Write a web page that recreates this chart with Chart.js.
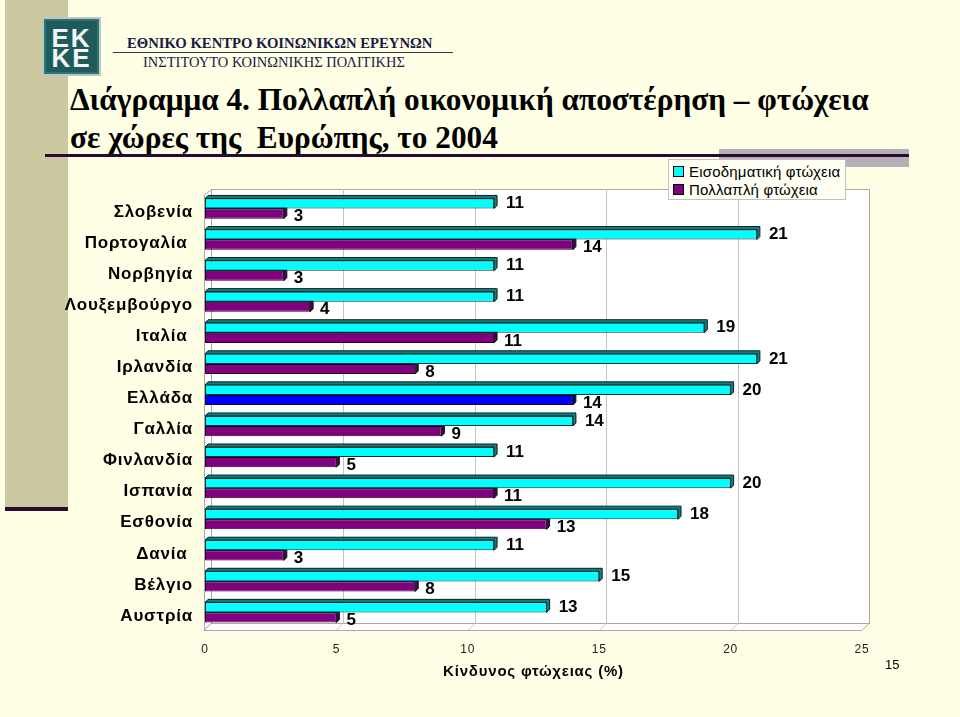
<!DOCTYPE html>
<html>
<head>
<meta charset="utf-8">
<script src="https://cdn.jsdelivr.net/npm/chart.js@4/dist/chart.umd.min.js"></script>
<style>
  html, body { margin: 0; padding: 0; }
  body { width: 960px; height: 717px; background: #FFFFE6; position: relative; overflow: hidden; }
  .abs { position: absolute; }
  #band { left: 5px; top: 0; width: 63px; height: 507px; background: #CCC9A0; }
  #bandEnd { left: 5px; top: 507px; width: 63px; height: 4px; background: #2A0A30; }
  #logo { left: 42px; top: 17px; width: 59px; height: 59px; background: #1E5C5C; border: 2px solid #B8C8C8;
          box-shadow: inset 0 0 0 2px #2E7272; color: #F4F4F4; font: bold 26px "Liberation Sans", Arial, sans-serif;
          line-height: 20px; letter-spacing: 2px; text-align: center; padding-top: 9px; box-sizing: border-box; }
  #inst1 { left: 127px; top: 35px; font: bold 14.7px "Liberation Serif", serif; color: #1A1A48; white-space: nowrap; }
  #inst1line { left: 113px; top: 52px; width: 340px; height: 1px; background: #333355; }
  #inst2 { left: 143px; top: 54px; font: 14.5px "Liberation Serif", serif; color: #1A1A48; white-space: nowrap; }
  #title { left: 70px; top: 81px; font: bold 31.3px "Liberation Serif", serif; color: #000; line-height: 38px; white-space: pre; }
  #grayBar { left: 719px; top: 149px; width: 190px; height: 18px; background: #B4B0B8; }
  #titleLine { left: 45px; top: 154px; width: 864px; height: 3px; background: #2A0A30; }
  #chart { left: 0; top: 0; }
  #legend { left: 668px; top: 159px; width: 178px; height: 41px; background: #FFFFF4; border: 1px solid #C0C0C0;
            box-sizing: border-box; font: 15px "Liberation Sans", Arial, sans-serif; color: #000; letter-spacing: 0.2px; }
  .item { position: absolute; left: 4px; white-space: nowrap; line-height: 17px; }
  .sw { display: inline-block; width: 9px; height: 9px; border: 1px solid #000; margin-right: 5px; vertical-align: 0px; }
  #page { left: 885px; top: 657px; font: 13px "Liberation Sans", Arial, sans-serif; color: #000; }
</style>
</head>
<body>
<div id="band" class="abs"></div>
<div id="bandEnd" class="abs"></div>
<div id="logo" class="abs">EK<br>KE</div>
<div id="inst1" class="abs">ΕΘΝΙΚΟ ΚΕΝΤΡΟ ΚΟΙΝΩΝΙΚΩΝ ΕΡΕΥΝΩΝ</div>
<div id="inst1line" class="abs"></div>
<div id="inst2" class="abs">ΙΝΣΤΙΤΟΥΤΟ ΚΟΙΝΩΝΙΚΗΣ ΠΟΛΙΤΙΚΗΣ</div>
<div id="title" class="abs">Διάγραμμα 4. Πολλαπλή οικονομική αποστέρηση – φτώχεια
σε χώρες της  Ευρώπης, το 2004</div>
<div id="grayBar" class="abs"></div>
<div id="titleLine" class="abs"></div>
<canvas id="chart" class="abs" width="960" height="717"></canvas>
<div id="legend" class="abs">
  <div class="item" style="top:3px"><span class="sw" style="background:#00FFFF"></span>Εισοδηματική φτώχεια</div>
  <div class="item" style="top:21px"><span class="sw" style="background:#800080"></span>Πολλαπλή φτώχεια</div>
</div>
<div id="page" class="abs">15</div>
<script>
// countries (trailing spaces as in the original slide)
var countries = ['Σλοβενία', 'Πορτογαλία ', 'Νορβηγία', 'Λουξεμβούργο', 'Ιταλία ', 'Ιρλανδία', 'Ελλάδα',
                 'Γαλλία', 'Φινλανδία', 'Ισπανία', 'Εσθονία', 'Δανία ', 'Βέλγιο', 'Αυστρία'];
var seriesNames = ['Εισοδηματική φτώχεια', 'Πολλαπλή φτώχεια'];
var incomePoverty = [11, 21, 11, 11, 19, 21, 20, 14, 11, 20, 18, 11, 15, 13];
var multiplePoverty = [3, 14, 3, 4, 11, 8, 14, 9, 5, 11, 13, 3, 8, 5];
var xMax = 25;
var xStep = 5;
var highlight = 'Ελλάδα';

var DEPTH = 7;   // depth of the 3d frame
var BAR_D = 3;   // depth of the 3d bars

function darker(c) {
    return {'#00FFFF': '#118080', '#800080': '#4A004A', '#0000FF': '#00007A'}[c] || '#333';
}

// the slide's axis texts are slightly spaced out
var spacing = {
    id: 'spacing',
    beforeUpdate: function (chart) { chart.ctx.letterSpacing = '0.8px'; },
    beforeDraw: function (chart) { chart.ctx.letterSpacing = '0.8px'; }
};

var frame3d = {
    id: 'frame3d',
    beforeDatasetsDraw: function (chart) {
        var ctx = chart.ctx, a = chart.chartArea, xs = chart.scales.x;
        var L = a.left - 1, R = a.right, F = a.bottom + 2, T = a.top - 4, d = DEPTH;
        ctx.save();
        ctx.lineWidth = 1;
        ctx.strokeStyle = '#A8A8A8';
        ctx.fillStyle = '#FFFFFF';
        // back wall
        ctx.fillRect(L + d, T, R - L, F - d - T);
        ctx.strokeRect(L + d + 0.5, T + 0.5, R - L, F - d - T);
        // left wall
        ctx.beginPath();
        ctx.moveTo(L + 0.5, T + d - 1); ctx.lineTo(L + d + 0.5, T + 0.5);
        ctx.lineTo(L + d + 0.5, F - d); ctx.lineTo(L + 0.5, F);
        ctx.closePath(); ctx.fill(); ctx.stroke();
        // floor
        ctx.beginPath();
        ctx.moveTo(L, F + 0.5); ctx.lineTo(L + d, F - d + 0.5);
        ctx.lineTo(R + d, F - d + 0.5); ctx.lineTo(R, F + 0.5);
        ctx.closePath(); ctx.fill(); ctx.stroke();
        // grid lines
        ctx.strokeStyle = '#C4C4C4';
        for (var v = xStep; v < xMax; v += xStep) {
            var px = Math.round(xs.getPixelForValue(v)) + 0.5;
            ctx.beginPath();
            ctx.moveTo(px, F); ctx.lineTo(px + d, F - d);
            ctx.lineTo(px + d, T);
            ctx.stroke();
        }
        // 3d faces of the bars (drawn first so the fronts cover them)
        chart.data.datasets.forEach(function (ds, i) {
            chart.getDatasetMeta(i).data.forEach(function (bar, j) {
                var col = Array.isArray(ds.backgroundColor) ? ds.backgroundColor[j] : ds.backgroundColor;
                var top = bar.y - bar.height / 2, bot = bar.y + bar.height / 2;
                ctx.fillStyle = darker(col);
                ctx.strokeStyle = '#0A2020';
                ctx.beginPath();
                ctx.moveTo(bar.base, top); ctx.lineTo(bar.base + BAR_D, top - BAR_D);
                ctx.lineTo(bar.x + BAR_D, top - BAR_D); ctx.lineTo(bar.x + BAR_D, bot - BAR_D);
                ctx.lineTo(bar.x, bot); ctx.lineTo(bar.x, top);
                ctx.closePath(); ctx.fill(); ctx.stroke();
            });
        });
        ctx.restore();
    }
};

var valueLabels = {
    id: 'valueLabels',
    afterDatasetsDraw: function (chart) {
        var ctx = chart.ctx;
        ctx.save();
        ctx.letterSpacing = '0px';
        ctx.font = 'bold 17px "Liberation Sans", Arial, sans-serif';
        ctx.fillStyle = '#000';
        ctx.textBaseline = 'middle';
        chart.data.datasets.forEach(function (ds, i) {
            chart.getDatasetMeta(i).data.forEach(function (bar, j) {
                var dx = i === 0 ? 12 : 10, dy = i === 0 ? 0 : 3;
                ctx.fillText(String(ds.data[j]), bar.x + dx, bar.y + dy);
            });
        });
        ctx.restore();
    }
};

new Chart(document.getElementById('chart'), {
    type: 'bar',
    data: {
        labels: countries,
        datasets: [{
            label: seriesNames[0],
            data: incomePoverty,
            backgroundColor: '#00FFFF',
            borderColor: '#0A3030',
            borderWidth: 1,
            borderSkipped: false
        }, {
            label: seriesNames[1],
            data: multiplePoverty,
            backgroundColor: countries.map(function (c) { return c.trim() == highlight ? '#0000FF' : '#800080'; }),
            borderColor: '#200020',
            borderWidth: 1,
            borderSkipped: false
        }]
    },
    options: {
        indexAxis: 'y',
        responsive: false,
        animation: false,
        categoryPercentage: 0.65,
        barPercentage: 1.0,
        layout: { padding: { top: 193, right: 98, bottom: 0, left: 0 } },
        plugins: { legend: { display: false }, tooltip: { enabled: false } },
        scales: {
            y: {
                grid: { display: false, drawTicks: false },
                border: { display: false },
                afterFit: function (s) { s.width = 205; },
                ticks: {
                    color: '#000',
                    padding: 12,
                    labelOffset: 3.5,
                    font: { family: '"Liberation Sans", Arial, sans-serif', size: 17, weight: 'bold' }
                }
            },
            x: {
                min: 0,
                max: xMax,
                grid: { display: false, drawTicks: false },
                border: { display: false },
                afterFit: function (s) { s.height = 89; },
                ticks: {
                    stepSize: xStep,
                    color: '#222',
                    padding: 14,
                    font: { family: '"Liberation Sans", Arial, sans-serif', size: 12 }
                },
                title: {
                    display: true,
                    text: 'Κίνδυνος φτώχειας (%)',
                    color: '#000',
                    padding: { top: 0, bottom: 36 },
                    font: { family: '"Liberation Sans", Arial, sans-serif', size: 15, weight: 'bold' }
                }
            }
        }
    },
    plugins: [spacing, frame3d, valueLabels]
});
</script>
</body>
</html>
